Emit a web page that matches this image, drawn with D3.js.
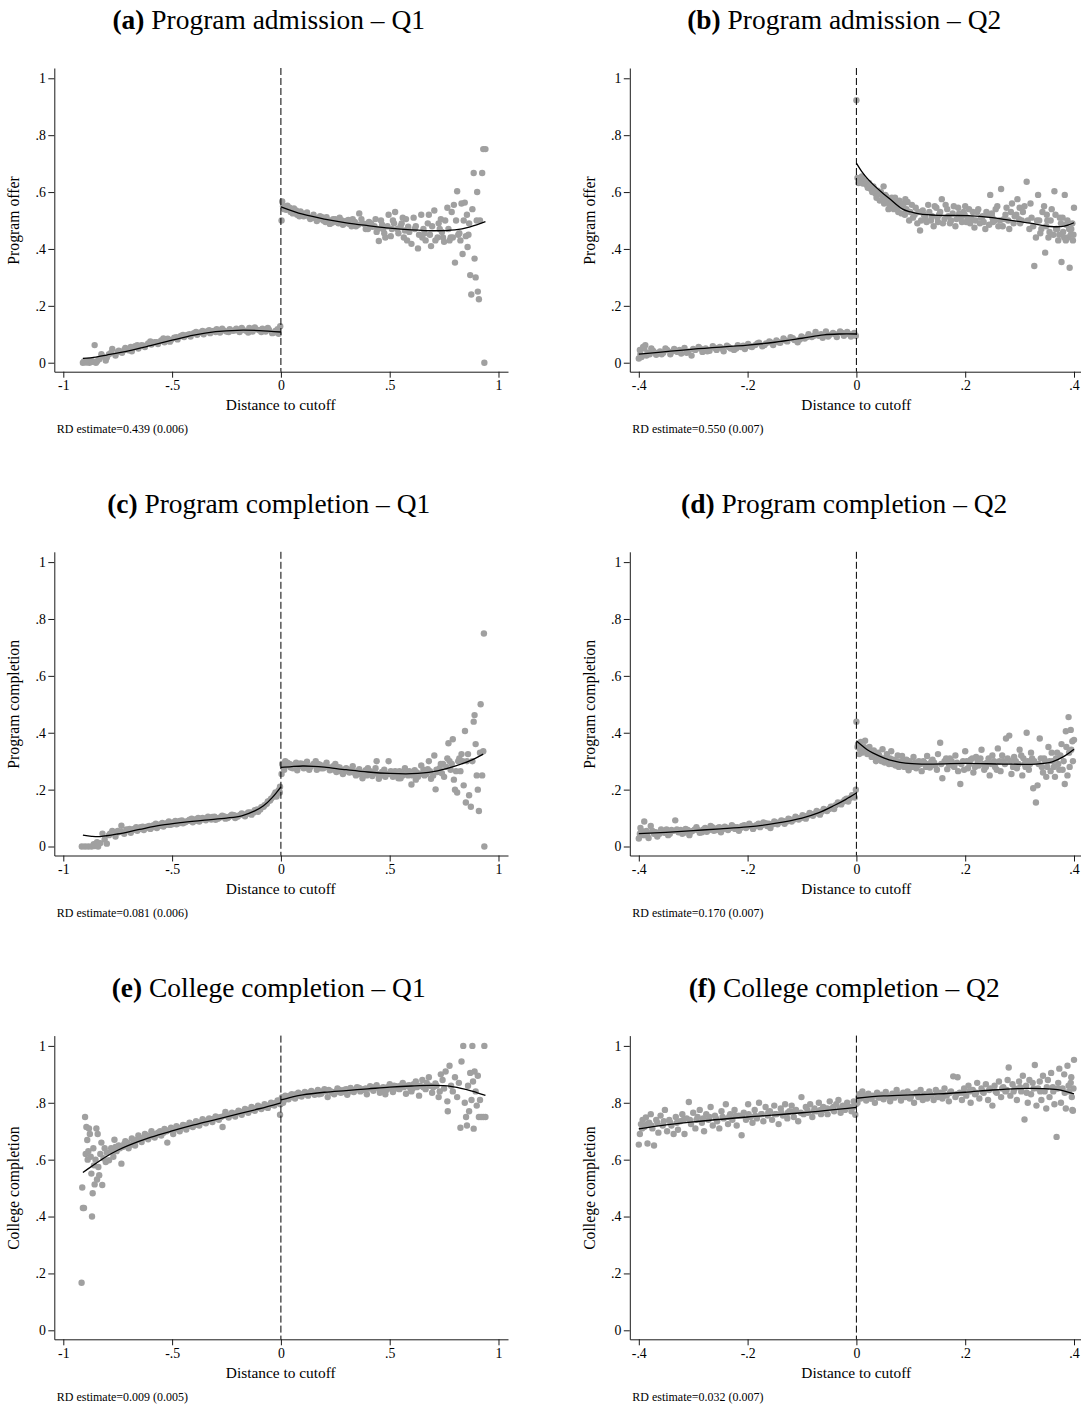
<!DOCTYPE html>
<html><head><meta charset="utf-8">
<script src="https://cdn.jsdelivr.net/npm/d3@7"></script>
<style>
body{margin:0;background:#fff}
svg text{font-family:"Liberation Serif","Times New Roman",serif;fill:#000}
</style>
</head><body><svg id="c" width="1081" height="1409"></svg>
<script>
// ---------- labels ----------
const panelLetters=["(a)","(b)","(c)","(d)","(e)","(f)"];
const panelTitles=["Program admission – Q1","Program admission – Q2","Program completion – Q1","Program completion – Q2","College completion – Q1","College completion – Q2"];
const yLabels=["Program offer","Program offer","Program completion","Program completion","College completion","College completion"];
const xLabel="Distance to cutoff";
const rdNotes=["RD estimate=0.439 (0.006)","RD estimate=0.550 (0.007)","RD estimate=0.081 (0.006)","RD estimate=0.170 (0.007)","RD estimate=0.009 (0.005)","RD estimate=0.032 (0.007)"];
const xTicksQ1=[-1,-0.5,0,0.5,1], xTickLabelsQ1=["-1","-.5","0",".5","1"];
const xTicksQ2=[-0.4,-0.2,0,0.2,0.4], xTickLabelsQ2=["-.4","-.2","0",".2",".4"];
const yTicks=[0,0.2,0.4,0.6,0.8,1], yTickLabels=["0",".2",".4",".6",".8","1"];

// ---------- (a) Program admission Q1 ----------
const aLeft=[[-.91,0],[-.905,.004],[-.895,.001],[-.885,.006],[-.88,0],[-.87,.008],[-.865,.003],[-.856,.062],[-.85,0],[-.845,.005],[-.835,.012],[-.825,.03],[-.82,.022],[-.805,.008],[-.8,.018],[-.79,.03],[-.775,.048],[-.76,.025],[-.745,.042],[-.73,.035],[-.715,.052],[-.7,.044],[-.685,.04],[-.67,.058],[-.655,.05],[-.64,.062],[-.625,.055],[-.61,.068],[-.595,.064],[-.58,.072],[-.565,.066],[-.55,.078],[-.535,.072],[-.52,.084],[-.505,.08],[-.49,.088],[-.475,.082],[-.46,.094],[-.445,.09],[-.43,.098],[-.415,.092],[-.4,.104],[-.385,.098],[-.37,.106],[-.355,.1],[-.34,.11],[-.325,.104],[-.31,.112],[-.295,.118],[-.28,.106],[-.265,.114],[-.25,.11],[-.235,.118],[-.22,.112],[-.205,.12],[-.19,.108],[-.175,.116],[-.16,.112],[-.145,.122],[-.13,.11],[-.115,.118],[-.1,.114],[-.085,.12],[-.07,.11],[-.055,.116],[-.04,.104],[-.025,.112],[-.01,.102],[-.003,.128]];
const aLeftB=[[-.78,.035],[-.75,.038],[-.72,.045],[-.69,.055],[-.66,.062],[-.63,.06],[-.6,.075],[-.57,.072],[-.54,.085],[-.51,.074],[-.48,.09],[-.45,.098],[-.42,.1],[-.39,.108],[-.36,.112],[-.33,.114],[-.3,.108],[-.27,.12],[-.24,.108],[-.21,.114],[-.18,.122],[-.15,.106],[-.12,.124],[-.09,.108],[-.06,.122],[-.03,.106],[-.015,.118]];
const aRight=[[.003,.5],[.006,.567],[.015,.54],[.03,.552],[.045,.53],[.06,.542],[.075,.52],[.09,.532],[.105,.515],[.12,.528],[.135,.505],[.15,.52],[.165,.498],[.18,.515],[.195,.5],[.21,.512],[.225,.488],[.24,.505],[.255,.495],[.27,.51],[.285,.485],[.3,.498],[.315,.488],[.33,.505],[.345,.48],[.36,.525],[.375,.49],[.39,.47],[.405,.495],[.42,.478],[.435,.505],[.44,.46],[.45,.428],[.465,.485],[.47,.47],[.48,.44],[.495,.52],[.51,.47],[.52,.49],[.525,.53],[.54,.455],[.555,.49],[.56,.51],[.57,.465],[.58,.43],[.585,.478],[.6,.418],[.61,.51],[.615,.47],[.63,.402],[.645,.52],[.65,.44],[.66,.455],[.675,.49],[.68,.52],[.69,.41],[.705,.535],[.72,.44],[.725,.49],[.735,.505],[.74,.46],[.75,.425],[.765,.545],[.77,.47],[.78,.44],[.79,.44],[.795,.555],[.8,.352],[.81,.603],[.82,.455],[.83,.56],[.835,.382],[.845,.563],[.85,.445],[.858,.407],[.865,.49],[.87,.308],[.875,.24],[.88,.54],[.886,.667],[.89,.366],[.895,.3],[.9,.5],[.902,.6],[.905,.25],[.91,.223],[.915,.5],[.925,.667],[.93,.751],[.935,0],[.94,.751]];
const aRightB=[[.01,.55],[.025,.538],[.04,.545],[.055,.525],[.07,.535],[.085,.515],[.1,.525],[.115,.52],[.13,.512],[.145,.51],[.16,.508],[.175,.505],[.19,.512],[.205,.495],[.22,.5],[.235,.492],[.25,.505],[.265,.49],[.28,.5],[.295,.49],[.31,.502],[.325,.48],[.34,.495],[.355,.485],[.37,.505],[.385,.488],[.4,.47],[.415,.49],[.43,.48],[.445,.47],[.46,.5],[.475,.455],[.49,.48],[.505,.445],[.515,.5],[.535,.47],[.55,.48],[.565,.44],[.575,.505],[.59,.46],[.62,.48],[.635,.45],[.655,.47],[.665,.43],[.685,.45],[.695,.48],[.71,.43],[.73,.47],[.745,.44],[.755,.5],[.775,.43],[.785,.53],[.805,.5],[.815,.45],[.825,.43],[.84,.5],[.855,.52],[.862,.45]];
const aFitL=[[-.91,.015],[-.85,.02],[-.8,.027],[-.7,.042],[-.6,.06],[-.5,.079],[-.4,.097],[-.3,.109],[-.2,.114],[-.1,.113],[0,.108]];
const aFitR=[[0,.548],[.1,.522],[.2,.505],[.3,.492],[.4,.482],[.5,.473],[.6,.467],[.7,.464],[.8,.467],[.87,.478],[.94,.496]];

// ---------- (b) Program admission Q2 ----------
const bLeft=[[-.4,.015],[-.398,.045],[-.395,.02],[-.392,.055],[-.388,.062],[-.384,.035],[-.38,.03],[-.374,.042],[-.368,.028],[-.361,.04],[-.355,.035],[-.348,.045],[-.342,.03],[-.335,.048],[-.329,.038],[-.322,.032],[-.316,.052],[-.309,.04],[-.303,.025],[-.296,.045],[-.29,.055],[-.283,.038],[-.277,.05],[-.27,.042],[-.264,.058],[-.257,.045],[-.251,.055],[-.244,.04],[-.238,.06],[-.231,.05],[-.225,.045],[-.218,.062],[-.212,.055],[-.205,.048],[-.199,.066],[-.192,.055],[-.186,.062],[-.179,.07],[-.173,.058],[-.166,.068],[-.16,.075],[-.153,.062],[-.147,.078],[-.14,.07],[-.134,.085],[-.127,.075],[-.121,.09],[-.114,.08],[-.108,.072],[-.101,.092],[-.095,.085],[-.088,.1],[-.082,.09],[-.075,.108],[-.069,.095],[-.062,.088],[-.056,.11],[-.049,.098],[-.043,.105],[-.036,.09],[-.03,.11],[-.023,.095],[-.017,.108],[-.01,.092],[-.004,.105],[-.001,.095]];
const bLeftB=[[-.397,.03],[-.39,.05],[-.386,.025],[-.377,.05],[-.37,.035],[-.358,.03],[-.351,.05],[-.338,.04],[-.325,.045],[-.312,.035],[-.3,.048],[-.287,.05],[-.274,.04],[-.26,.052],[-.247,.05],[-.235,.055],[-.221,.05],[-.208,.06],[-.195,.058],[-.182,.068],[-.169,.062],[-.156,.07],[-.143,.072],[-.13,.078],[-.117,.086],[-.104,.082],[-.091,.09],[-.078,.095],[-.065,.1],[-.052,.092],[-.039,.1],[-.026,.105],[-.013,.1],[-.007,.098]];
const bRight=[[0,.923],[.002,.65],[.005,.64],[.008,.648],[.012,.63],[.015,.642],[.019,.625],[.023,.632],[.027,.61],[.031,.62],[.035,.595],[.039,.605],[.043,.57],[.047,.59],[.05,.62],[.051,.56],[.055,.585],[.059,.54],[.063,.575],[.067,.555],[.071,.58],[.075,.545],[.079,.57],[.083,.525],[.087,.56],[.09,.575],[.092,.54],[.097,.5],[.102,.555],[.107,.52],[.112,.49],[.117,.465],[.122,.535],[.127,.51],[.132,.555],[.137,.5],[.142,.48],[.147,.545],[.15,.495],[.152,.52],[.157,.575],[.162,.505],[.167,.54],[.172,.49],[.177,.525],[.182,.48],[.187,.545],[.192,.51],[.197,.53],[.2,.55],[.202,.495],[.207,.54],[.212,.505],[.217,.475],[.222,.53],[.227,.49],[.232,.515],[.237,.47],[.242,.52],[.246,.59],[.25,.51],[.251,.495],[.256,.54],[.261,.48],[.266,.611],[.271,.505],[.276,.545],[.281,.47],[.286,.56],[.291,.515],[.296,.575],[.3,.545],[.301,.49],[.306,.53],[.313,.636],[.318,.47],[.322,.51],[.327,.34],[.33,.44],[.334,.59],[.338,.455],[.342,.53],[.347,.387],[.35,.52],[.351,.5],[.355,.46],[.359,.54],[.364,.603],[.367,.47],[.371,.43],[.374,.51],[.377,.354],[.38,.46],[.383,.59],[.386,.485],[.389,.44],[.392,.334],[.395,.47],[.398,.43],[.4,.545]];
const bRightB=[[.004,.632],[.01,.655],[.017,.63],[.021,.615],[.025,.625],[.029,.6],[.033,.612],[.037,.58],[.041,.595],[.045,.6],[.049,.575],[.053,.59],[.057,.565],[.061,.555],[.065,.58],[.069,.54],[.073,.565],[.077,.53],[.081,.56],[.085,.55],[.089,.52],[.094,.565],[.099,.53],[.104,.51],[.109,.545],[.114,.53],[.119,.5],[.124,.52],[.129,.495],[.134,.53],[.139,.515],[.144,.55],[.149,.51],[.154,.53],[.159,.49],[.164,.555],[.169,.515],[.174,.5],[.179,.55],[.184,.505],[.189,.525],[.194,.495],[.199,.52],[.204,.51],[.209,.49],[.214,.53],[.219,.5],[.224,.54],[.229,.51],[.234,.495],[.239,.53],[.244,.485],[.249,.525],[.254,.5],[.259,.55],[.264,.5],[.269,.48],[.274,.52],[.279,.5],[.284,.53],[.289,.49],[.294,.52],[.299,.505],[.304,.5],[.309,.55],[.315,.5],[.32,.56],[.325,.48],[.332,.5],[.336,.5],[.34,.47],[.345,.55],[.349,.48],[.353,.44],[.357,.5],[.362,.45],[.366,.52],[.369,.47],[.373,.45],[.376,.49],[.379,.51],[.382,.44],[.385,.43],[.388,.5],[.391,.47],[.394,.45],[.397,.49],[.399,.45]];
const bFitL=[[-.4,.03],[-.3,.048],[-.2,.062],[-.15,.072],[-.1,.086],[-.06,.098],[-.03,.101],[0,.101]];
const bFitR=[[0,.702],[.01,.672],[.02,.648],[.03,.628],[.046,.6],[.06,.578],[.084,.541],[.1,.53],[.116,.523],[.15,.518],[.205,.517],[.25,.51],[.275,.503],[.319,.491],[.357,.479],[.382,.48],[.4,.492]];

// ---------- (c) Program completion Q1 ----------
const cLeft=[[-.915,0],[-.9,0],[-.885,0],[-.87,0],[-.86,.008],[-.855,.002],[-.845,.015],[-.84,0],[-.83,.012],[-.82,.045],[-.81,.025],[-.8,.01],[-.79,.04],[-.775,.055],[-.76,.035],[-.745,.05],[-.733,.073],[-.72,.045],[-.705,.058],[-.69,.048],[-.675,.062],[-.66,.055],[-.645,.068],[-.63,.058],[-.615,.07],[-.6,.062],[-.585,.075],[-.57,.065],[-.555,.078],[-.54,.07],[-.525,.082],[-.51,.076],[-.495,.085],[-.48,.078],[-.465,.09],[-.45,.082],[-.435,.088],[-.42,.094],[-.405,.085],[-.39,.096],[-.375,.088],[-.36,.1],[-.345,.092],[-.33,.098],[-.315,.104],[-.3,.094],[-.285,.1],[-.27,.108],[-.255,.098],[-.24,.104],[-.225,.112],[-.21,.1],[-.195,.108],[-.18,.116],[-.165,.106],[-.15,.12],[-.135,.112],[-.12,.128],[-.105,.122],[-.09,.138],[-.075,.145],[-.06,.158],[-.045,.168],[-.03,.182],[-.02,.176],[-.01,.198],[-.005,.19],[-.004,.21]];
const cLeftB=[[-.785,.045],[-.765,.05],[-.75,.055],[-.735,.052],[-.71,.06],[-.695,.062],[-.68,.058],[-.665,.068],[-.65,.062],[-.635,.07],[-.62,.065],[-.605,.072],[-.59,.068],[-.575,.08],[-.56,.072],[-.545,.083],[-.53,.076],[-.515,.088],[-.5,.078],[-.485,.09],[-.47,.082],[-.455,.092],[-.44,.085],[-.425,.09],[-.41,.098],[-.395,.09],[-.38,.1],[-.365,.095],[-.35,.098],[-.335,.105],[-.32,.095],[-.305,.105],[-.29,.098],[-.275,.104],[-.26,.106],[-.245,.1],[-.23,.108],[-.215,.11],[-.2,.105],[-.185,.112],[-.17,.112],[-.155,.115],[-.14,.12],[-.125,.12],[-.11,.13],[-.095,.13],[-.08,.14],[-.065,.15],[-.05,.162],[-.035,.175],[-.025,.19],[-.015,.19]];
const cRight=[[.003,.255],[.006,.29],[.015,.27],[.02,.3],[.03,.295],[.045,.278],[.06,.288],[.075,.268],[.09,.292],[.105,.275],[.12,.298],[.135,.28],[.15,.29],[.16,.3],[.165,.27],[.18,.288],[.195,.275],[.21,.295],[.225,.268],[.24,.282],[.25,.29],[.255,.262],[.27,.278],[.285,.255],[.3,.275],[.315,.26],[.33,.282],[.345,.25],[.36,.272],[.375,.24],[.39,.268],[.4,.275],[.405,.255],[.42,.248],[.435,.275],[.44,.3],[.45,.238],[.465,.262],[.48,.245],[.495,.3],[.51,.252],[.525,.265],[.54,.24],[.55,.24],[.555,.258],[.57,.275],[.585,.25],[.6,.218],[.615,.268],[.62,.235],[.63,.245],[.645,.285],[.66,.25],[.675,.272],[.68,.3],[.69,.238],[.705,.32],[.711,.201],[.72,.262],[.735,.29],[.74,.258],[.75,.245],[.765,.31],[.77,.363],[.78,.27],[.79,.377],[.795,.235],[.8,.2],[.81,.19],[.815,.3],[.825,.265],[.83,.325],[.84,.215],[.846,.406],[.85,.155],[.86,.325],[.865,.18],[.873,.14],[.88,.3],[.886,.439],[.89,.462],[.895,.36],[.9,.25],[.905,.2],[.91,.125],[.915,.33],[.918,.5],[.925,.25],[.93,.335],[.933,.749],[.935,0]];
const cRightB=[[.01,.28],[.025,.285],[.04,.29],[.055,.275],[.07,.295],[.085,.282],[.1,.29],[.115,.285],[.13,.27],[.145,.285],[.17,.29],[.185,.275],[.2,.285],[.215,.28],[.23,.275],[.245,.27],[.26,.28],[.275,.265],[.29,.27],[.305,.265],[.32,.27],[.335,.26],[.35,.265],[.365,.255],[.38,.26],[.395,.25],[.41,.265],[.425,.26],[.445,.255],[.46,.25],[.475,.27],[.49,.255],[.505,.265],[.515,.245],[.53,.255],[.545,.265],[.56,.25],[.575,.255],[.59,.265],[.605,.25],[.625,.26],[.64,.255],[.655,.27],[.67,.255],[.685,.265],[.7,.25],[.715,.27],[.73,.275],[.745,.29],[.76,.28],[.775,.3],[.785,.29],[.805,.265],[.82,.31],[.835,.3],[.855,.3]];
const cFitL=[[-.91,.04],[-.87,.036],[-.83,.035],[-.75,.044],[-.65,.06],[-.55,.075],[-.45,.085],[-.35,.093],[-.25,.1],[-.18,.108],[-.12,.125],[-.08,.143],[-.04,.172],[0,.21]];
const cFitR=[[0,.278],[.05,.281],[.1,.283],[.15,.282],[.2,.279],[.3,.27],[.4,.262],[.5,.257],[.6,.256],[.7,.263],[.8,.283],[.87,.302],[.93,.325]];

// ---------- (d) Program completion Q2 ----------
const dLeft=[[-.4,.028],[-.397,.065],[-.393,.04],[-.39,.088],[-.386,.055],[-.382,.03],[-.378,.072],[-.372,.045],[-.366,.035],[-.359,.06],[-.353,.048],[-.346,.04],[-.34,.058],[-.333,.092],[-.327,.05],[-.32,.045],[-.314,.062],[-.307,.04],[-.301,.055],[-.294,.068],[-.288,.048],[-.281,.06],[-.275,.052],[-.268,.072],[-.262,.055],[-.255,.065],[-.249,.05],[-.242,.07],[-.236,.058],[-.229,.075],[-.223,.062],[-.216,.055],[-.21,.072],[-.203,.065],[-.197,.08],[-.19,.062],[-.184,.075],[-.177,.068],[-.171,.085],[-.164,.072],[-.158,.065],[-.151,.088],[-.145,.078],[-.138,.092],[-.132,.08],[-.125,.098],[-.119,.088],[-.112,.105],[-.106,.095],[-.099,.11],[-.093,.098],[-.086,.118],[-.08,.108],[-.073,.125],[-.067,.112],[-.06,.132],[-.054,.125],[-.047,.14],[-.041,.132],[-.034,.155],[-.028,.148],[-.021,.165],[-.015,.158],[-.008,.18],[-.003,.172],[-.001,.2]];
const dLeftB=[[-.398,.045],[-.395,.055],[-.388,.04],[-.384,.048],[-.375,.055],[-.369,.05],[-.362,.045],[-.356,.055],[-.349,.06],[-.343,.045],[-.336,.055],[-.33,.06],[-.323,.058],[-.317,.048],[-.31,.058],[-.304,.052],[-.297,.06],[-.291,.058],[-.284,.05],[-.278,.065],[-.271,.058],[-.265,.068],[-.258,.058],[-.252,.068],[-.245,.062],[-.239,.066],[-.232,.065],[-.226,.07],[-.219,.068],[-.213,.065],[-.206,.075],[-.2,.07],[-.193,.072],[-.187,.07],[-.18,.08],[-.174,.075],[-.167,.082],[-.161,.08],[-.154,.078],[-.148,.085],[-.141,.085],[-.135,.09],[-.128,.088],[-.122,.095],[-.115,.095],[-.109,.1],[-.102,.1],[-.096,.105],[-.09,.108],[-.083,.112],[-.077,.115],[-.07,.118],[-.064,.122],[-.057,.128],[-.05,.132],[-.044,.14],[-.038,.145],[-.031,.15],[-.024,.158],[-.018,.168],[-.012,.17],[-.005,.18]];
const dRight=[[0,.439],[.002,.35],[.005,.325],[.008,.368],[.012,.34],[.016,.372],[.02,.325],[.024,.35],[.028,.315],[.032,.338],[.036,.3],[.04,.33],[.044,.31],[.048,.342],[.052,.295],[.056,.325],[.06,.29],[.064,.335],[.068,.305],[.072,.285],[.076,.32],[.08,.298],[.084,.318],[.088,.28],[.092,.305],[.096,.268],[.1,.29],[.105,.315],[.11,.275],[.115,.3],[.12,.265],[.125,.295],[.13,.318],[.135,.278],[.14,.305],[.145,.285],[.15,.325],[.154,.365],[.158,.24],[.162,.3],[.167,.272],[.172,.31],[.177,.285],[.182,.32],[.187,.265],[.191,.22],[.196,.3],[.2,.335],[.205,.275],[.21,.305],[.215,.26],[.22,.315],[.225,.285],[.23,.34],[.235,.27],[.24,.295],[.245,.25],[.25,.32],[.255,.28],[.26,.345],[.265,.265],[.27,.3],[.275,.38],[.281,.39],[.285,.255],[.29,.315],[.295,.275],[.3,.34],[.305,.25],[.309,.29],[.313,.4],[.317,.27],[.321,.33],[.325,.205],[.33,.155],[.333,.215],[.337,.38],[.341,.28],[.345,.31],[.349,.245],[.353,.35],[.357,.265],[.361,.3],[.365,.245],[.369,.33],[.373,.27],[.377,.36],[.381,.3],[.383,.22],[.385,.405],[.388,.25],[.39,.455],[.392,.28],[.394,.41],[.397,.37],[.4,.375]];
const dRightB=[[.003,.36],[.006,.345],[.01,.33],[.014,.35],[.018,.34],[.022,.335],[.026,.33],[.03,.32],[.034,.315],[.038,.31],[.042,.32],[.046,.3],[.05,.31],[.054,.31],[.058,.3],[.062,.31],[.066,.29],[.07,.3],[.074,.3],[.078,.28],[.082,.29],[.086,.3],[.09,.29],[.094,.285],[.098,.3],[.103,.28],[.108,.295],[.113,.285],[.118,.29],[.123,.3],[.128,.28],[.133,.29],[.138,.3],[.143,.295],[.148,.27],[.156,.29],[.165,.31],[.17,.29],[.175,.3],[.18,.28],[.185,.295],[.193,.29],[.198,.27],[.203,.3],[.208,.29],[.213,.31],[.218,.28],[.223,.3],[.228,.31],[.233,.29],[.238,.28],[.243,.31],[.248,.29],[.253,.3],[.258,.27],[.263,.3],[.268,.32],[.273,.29],[.278,.31],[.283,.3],[.288,.28],[.293,.3],[.298,.29],[.303,.32],[.307,.31],[.311,.28],[.315,.3],[.319,.29],[.323,.31],[.327,.3],[.335,.29],[.339,.31],[.343,.26],[.347,.3],[.351,.28],[.355,.3],[.359,.33],[.363,.28],[.367,.31],[.371,.29],[.375,.32],[.379,.27],[.386,.35],[.391,.33],[.395,.34],[.398,.3]];
const dFitL=[[-.4,.045],[-.35,.05],[-.3,.056],[-.25,.062],[-.2,.069],[-.15,.081],[-.1,.1],[-.07,.118],[-.04,.145],[-.02,.165],[0,.188]];
const dFitR=[[0,.372],[.01,.355],[.02,.34],[.03,.329],[.05,.312],[.07,.3],[.09,.293],[.12,.29],[.2,.292],[.27,.29],[.33,.29],[.36,.298],[.38,.315],[.4,.342]];

// ---------- (e) College completion Q1 ----------
const eLeft=[[-.916,.167],[-.913,.502],[-.91,.43],[-.905,.43],[-.9,.75],[-.897,.62],[-.894,.715],[-.89,.669],[-.888,.6],[-.885,.63],[-.882,.71],[-.878,.69],[-.874,.61],[-.871,.551],[-.868,.4],[-.865,.482],[-.862,.64],[-.859,.58],[-.856,.513],[-.852,.6],[-.848,.71],[-.845,.53],[-.842,.69],[-.839,.574],[-.835,.545],[-.83,.62],[-.825,.66],[-.821,.511],[-.815,.605],[-.81,.64],[-.805,.592],[-.8,.625],[-.79,.598],[-.78,.64],[-.77,.61],[-.765,.67],[-.755,.63],[-.745,.65],[-.733,.586],[-.725,.645],[-.715,.665],[-.7,.64],[-.685,.675],[-.67,.65],[-.655,.685],[-.64,.662],[-.625,.69],[-.61,.672],[-.595,.7],[-.58,.678],[-.565,.695],[-.55,.685],[-.535,.708],[-.522,.66],[-.51,.705],[-.495,.69],[-.48,.718],[-.465,.7],[-.45,.722],[-.435,.706],[-.42,.73],[-.405,.715],[-.39,.735],[-.375,.72],[-.36,.742],[-.345,.728],[-.33,.745],[-.315,.732],[-.3,.752],[-.285,.74],[-.268,.715],[-.255,.768],[-.24,.748],[-.225,.765],[-.21,.752],[-.195,.772],[-.18,.758],[-.165,.778],[-.15,.765],[-.135,.785],[-.12,.772],[-.105,.79],[-.09,.778],[-.075,.795],[-.06,.782],[-.045,.8],[-.03,.79],[-.015,.808],[-.004,.758],[-.002,.795]];
const eLeftB=[[-.775,.63],[-.76,.645],[-.74,.64],[-.72,.655],[-.705,.66],[-.69,.652],[-.675,.665],[-.66,.67],[-.645,.675],[-.63,.678],[-.615,.685],[-.6,.682],[-.585,.69],[-.57,.688],[-.555,.7],[-.54,.695],[-.525,.7],[-.505,.712],[-.49,.705],[-.475,.71],[-.46,.712],[-.44,.72],[-.425,.718],[-.41,.725],[-.395,.722],[-.38,.73],[-.365,.732],[-.35,.735],[-.335,.74],[-.32,.742],[-.305,.745],[-.29,.748],[-.275,.75],[-.26,.755],[-.245,.758],[-.23,.758],[-.215,.762],[-.2,.765],[-.185,.768],[-.17,.77],[-.155,.775],[-.14,.775],[-.125,.78],[-.11,.782],[-.095,.785],[-.08,.785],[-.065,.79],[-.05,.792],[-.035,.798],[-.02,.8],[-.01,.8]];
const eRight=[[.003,.815],[.01,.8],[.015,.81],[.02,.825],[.035,.812],[.05,.83],[.065,.815],[.08,.835],[.09,.83],[.095,.822],[.11,.838],[.125,.825],[.14,.842],[.155,.828],[.17,.845],[.175,.83],[.185,.832],[.2,.848],[.215,.82],[.23,.84],[.245,.83],[.25,.838],[.26,.85],[.275,.835],[.29,.845],[.305,.828],[.31,.842],[.32,.852],[.335,.838],[.35,.855],[.365,.84],[.38,.848],[.395,.83],[.41,.858],[.42,.85],[.425,.842],[.44,.862],[.455,.835],[.47,.855],[.48,.83],[.485,.845],[.5,.865],[.515,.838],[.53,.858],[.545,.848],[.55,.86],[.56,.87],[.575,.832],[.59,.862],[.6,.84],[.605,.85],[.62,.875],[.635,.825],[.65,.88],[.665,.848],[.68,.89],[.695,.835],[.71,.868],[.725,.82],[.735,.9],[.743,.88],[.75,.85],[.757,.91],[.765,.805],[.767,.77],[.775,.93],[.782,.86],[.79,.84],[.8,.89],[.81,.82],[.818,.87],[.825,.712],[.83,.945],[.838,1],[.845,.8],[.851,.75],[.855,.72],[.86,.86],[.865,.77],[.87,.905],[.876,.81],[.88,1],[.883,.875],[.886,.709],[.89,.91],[.895,.84],[.9,.79],[.905,.895],[.91,.75],[.915,.81],[.92,.75],[.93,.75],[.935,1],[.94,.75]];
const eRightB=[[.006,.82],[.025,.815],[.04,.825],[.055,.82],[.07,.83],[.085,.825],[.1,.83],[.115,.83],[.13,.835],[.145,.835],[.16,.835],[.19,.84],[.205,.84],[.22,.845],[.235,.835],[.255,.84],[.27,.845],[.285,.838],[.3,.848],[.315,.84],[.33,.845],[.345,.848],[.36,.852],[.375,.845],[.39,.85],[.405,.85],[.43,.855],[.45,.85],[.465,.848],[.49,.855],[.505,.85],[.52,.86],[.535,.85],[.565,.855],[.58,.86],[.595,.85],[.61,.865],[.625,.855],[.64,.86],[.655,.855],[.67,.87],[.685,.86],[.7,.855],[.715,.86],[.73,.84]];
const eFitL=[[-.91,.555],[-.85,.587],[-.8,.612],[-.75,.633],[-.7,.65],[-.6,.678],[-.5,.701],[-.4,.722],[-.3,.741],[-.2,.76],[-.1,.779],[0,.8]];
const eFitR=[[0,.81],[.05,.82],[.1,.828],[.2,.837],[.3,.843],[.4,.849],[.5,.855],[.6,.859],[.7,.861],[.78,.858],[.85,.847],[.9,.836],[.94,.826]];

// ---------- (f) College completion Q2 ----------
const fLeft=[[-.4,.653],[-.398,.69],[-.396,.725],[-.393,.74],[-.39,.715],[-.387,.748],[-.384,.657],[-.381,.73],[-.378,.76],[-.375,.71],[-.372,.65],[-.368,.74],[-.364,.695],[-.36,.755],[-.356,.72],[-.352,.775],[-.348,.7],[-.344,.74],[-.34,.72],[-.336,.69],[-.332,.75],[-.328,.705],[-.324,.735],[-.32,.76],[-.316,.69],[-.312,.745],[-.308,.803],[-.304,.725],[-.3,.765],[-.296,.71],[-.292,.75],[-.288,.775],[-.284,.73],[-.28,.7],[-.276,.76],[-.272,.74],[-.268,.785],[-.264,.72],[-.26,.755],[-.256,.735],[-.252,.71],[-.248,.77],[-.244,.745],[-.24,.795],[-.236,.725],[-.232,.76],[-.228,.74],[-.224,.775],[-.22,.72],[-.216,.755],[-.211,.686],[-.207,.765],[-.203,.74],[-.199,.795],[-.195,.75],[-.191,.73],[-.187,.775],[-.183,.745],[-.179,.8],[-.175,.76],[-.171,.735],[-.167,.785],[-.163,.755],[-.159,.77],[-.155,.74],[-.151,.79],[-.147,.76],[-.143,.725],[-.139,.78],[-.135,.755],[-.131,.795],[-.127,.745],[-.123,.77],[-.119,.79],[-.115,.75],[-.111,.775],[-.107,.735],[-.101,.82],[-.097,.76],[-.093,.785],[-.089,.765],[-.085,.795],[-.081,.75],[-.077,.78],[-.073,.77],[-.069,.8],[-.065,.76],[-.061,.785],[-.057,.775],[-.053,.76],[-.049,.805],[-.045,.78],[-.041,.77],[-.037,.795],[-.033,.81],[-.029,.765],[-.025,.79],[-.021,.775],[-.017,.8],[-.013,.785],[-.009,.77],[-.005,.805],[-.002,.758],[-.001,.795]];
const fLeftB=[[-.394,.71],[-.385,.725],[-.377,.72],[-.366,.73],[-.354,.735],[-.342,.73],[-.33,.73],[-.318,.74],[-.306,.74],[-.294,.74],[-.282,.745],[-.27,.75],[-.258,.745],[-.246,.75],[-.234,.75],[-.222,.755],[-.21,.755],[-.198,.76],[-.186,.755],[-.174,.76],[-.162,.765],[-.15,.76],[-.138,.765],[-.126,.765],[-.114,.77],[-.102,.765],[-.09,.775],[-.078,.77],[-.066,.775],[-.054,.78],[-.042,.785],[-.03,.78],[-.018,.79],[-.006,.785]];
const fRight=[[.002,.8],[.005,.83],[.008,.815],[.011,.84],[.014,.82],[.018,.808],[.022,.832],[.026,.815],[.03,.825],[.034,.8],[.038,.835],[.042,.818],[.046,.828],[.05,.812],[.054,.838],[.058,.822],[.062,.805],[.066,.832],[.07,.818],[.074,.845],[.078,.825],[.082,.808],[.086,.835],[.09,.82],[.094,.84],[.098,.815],[.102,.83],[.106,.8],[.11,.835],[.114,.82],[.118,.845],[.122,.81],[.126,.83],[.13,.815],[.134,.84],[.138,.825],[.142,.81],[.146,.845],[.15,.82],[.154,.835],[.158,.815],[.162,.85],[.166,.825],[.17,.805],[.174,.84],[.178,.893],[.182,.82],[.186,.89],[.19,.835],[.194,.81],[.198,.85],[.202,.825],[.206,.86],[.21,.8],[.214,.845],[.218,.83],[.222,.87],[.226,.815],[.23,.85],[.234,.835],[.238,.865],[.242,.81],[.246,.85],[.25,.79],[.254,.86],[.258,.835],[.262,.875],[.266,.82],[.27,.855],[.274,.84],[.278,.88],[.28,.924],[.283,.825],[.287,.865],[.291,.85],[.295,.81],[.299,.875],[.303,.84],[.306,.895],[.309,.741],[.312,.86],[.315,.8],[.318,.88],[.321,.83],[.324,.87],[.328,.933],[.331,.79],[.334,.85],[.337,.875],[.34,.81],[.343,.895],[.346,.84],[.349,.78],[.352,.88],[.355,.82],[.358,.905],[.361,.855],[.364,.795],[.368,.68],[.371,.87],[.373,.92],[.376,.8],[.379,.85],[.382,.9],[.385,.78],[.388,.93],[.391,.84],[.394,.87],[.395,.89],[.397,.775],[.398,.772],[.399,.85],[.4,.951]];
const fRightB=[[.004,.82],[.016,.825],[.028,.815],[.04,.82],[.052,.825],[.064,.82],[.076,.83],[.088,.825],[.1,.82],[.112,.83],[.124,.825],[.136,.83],[.148,.83],[.16,.83],[.172,.835],[.184,.83],[.196,.835],[.208,.84],[.22,.835],[.232,.84],[.244,.845],[.256,.84],[.268,.85],[.276,.845],[.289,.84],[.301,.855],[.313,.835],[.326,.85],[.338,.84],[.35,.855],[.362,.84],[.37,.85],[.383,.835],[.39,.86],[.396,.82]];
const fFitL=[[-.4,.708],[-.35,.722],[-.3,.733],[-.2,.75],[-.1,.765],[0,.784]];
const fFitR=[[0,.816],[.05,.824],[.1,.828],[.15,.831],[.2,.837],[.25,.845],[.3,.85],[.34,.85],[.37,.846],[.4,.831]];

const scatterSets=[
  [aLeft,aLeftB,aRight,aRightB],[bLeft,bLeftB,bRight,bRightB],[cLeft,cLeftB,cRight,cRightB],
  [dLeft,dLeftB,dRight,dRightB],[eLeft,eLeftB,eRight,eRightB],[fLeft,fLeftB,fRight,fRightB]];
const fitLeft=[aFitL,bFitL,cFitL,dFitL,eFitL,fFitL];
const fitRight=[aFitR,bFitR,cFitR,dFitR,eFitR,fFitR];

// ---------- drawing ----------
const svg=d3.select("#c");
svg.append("rect").attr("width",1081).attr("height",1409).attr("fill","#fff");
const colX=[0,575.5], rowY=[0,483.8,967.6];
const DOT="#a0a0a0";

function fitGroup(sels,targets,base){
  let r=0;
  sels.forEach((s,i)=>{s.style("font-size",base+"px");r+=targets[i]/s.node().getComputedTextLength();});
  const fs=base*r/sels.length;
  sels.forEach(s=>s.style("font-size",fs+"px"));
}
const titleSels=[],ylabSels=[],xlabSels=[],rdSels=[];

panelTitles.forEach((t,i)=>{
  const col=i%2,row=Math.floor(i/2);
  const g=svg.append("g").attr("transform",`translate(${colX[col]},${rowY[row]})`);
  const q1=col===0;
  const x=d3.scaleLinear().domain(q1?[-1.0414,1.0437]:[-0.41654,0.41746]).range([54.3,508]);
  const y=d3.scaleLinear().domain([-0.0316,1.0362]).range([371.7,68]);
  const xt=q1?xTicksQ1:xTicksQ2, xl=q1?xTickLabelsQ1:xTickLabelsQ2;

  // axes
  const xa=g.append("g").attr("transform","translate(0,371.7)")
    .call(d3.axisBottom(x).tickValues(xt).tickFormat((d,j)=>xl[j]).tickSize(6).tickSizeOuter(0).tickPadding(3));
  const ya=g.append("g").attr("transform","translate(54.3,0)")
    .call(d3.axisLeft(y).tickValues(yTicks).tickFormat((d,j)=>yTickLabels[j]).tickSize(6).tickSizeOuter(0).tickPadding(2.5));
  [xa,ya].forEach(a=>{
    a.attr("font-family",null).attr("font-size",null);
    a.selectAll("text").style("font-size","13.8px").attr("fill","#000");
    a.selectAll("path,line").attr("stroke","#1a1a1a").attr("stroke-width",1);
  });

  // scatter
  const pts=[].concat(...scatterSets[i]);
  g.append("g").selectAll("circle").data(pts).join("circle")
    .attr("cx",d=>x(d[0])).attr("cy",d=>y(d[1])).attr("r",3.2).attr("fill",DOT);

  // fitted lines
  const line=d3.line().x(d=>x(d[0])).y(d=>y(d[1])).curve(d3.curveCatmullRom.alpha(0.5));
  [fitLeft[i],fitRight[i]].forEach(f=>{
    g.append("path").attr("d",line(f)).attr("fill","none").attr("stroke","#000").attr("stroke-width",1.3);
  });

  // cutoff
  g.append("line").attr("x1",x(0)).attr("x2",x(0)).attr("y1",68).attr("y2",371.7)
    .attr("stroke","#000").attr("stroke-width",1).attr("stroke-dasharray","7,3");

  // texts
  const tt=g.append("text").attr("x",268.7).attr("y",29).attr("text-anchor","middle");
  tt.append("tspan").attr("font-weight","bold").text(panelLetters[i]);
  tt.append("tspan").text(" "+t);
  titleSels.push(tt);
  const yl=g.append("text").attr("transform",`translate(19,${(y(0)+y(1))/2}) rotate(-90)`).attr("text-anchor","middle").text(yLabels[i]);
  ylabSels.push(yl);
  const xlb=g.append("text").attr("x",280.8).attr("y",410).attr("text-anchor","middle").text(xLabel);
  xlabSels.push(xlb);
  const rd=g.append("text").attr("x",56.8).attr("y",433).text(rdNotes[i]);
  rdSels.push(rd);
});
fitGroup(titleSels,[310,312,325,329.5,313,312],24);
fitGroup(ylabSels,[88.3,88.3,130,130,122.7,122.7],14);
fitGroup(xlabSels,[110,110,110,110,110,110],13.5);
fitGroup(rdSels,[131,131,131,131,131,131.6],10.5);
</script>
</body></html>
